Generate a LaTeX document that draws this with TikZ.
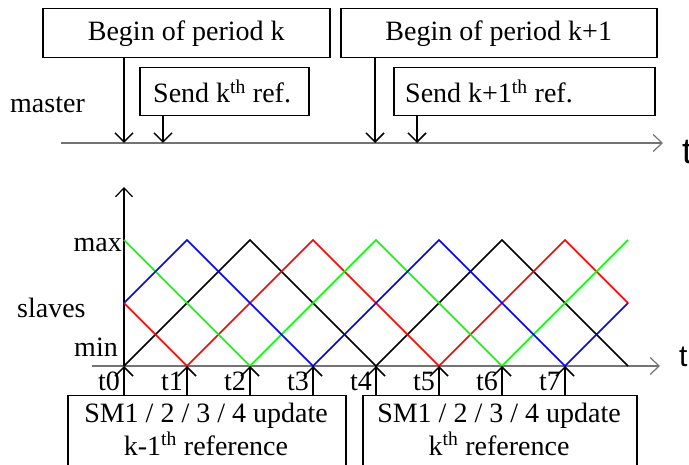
\documentclass[tikz,border=0pt]{standalone}
\usepackage{fontspec}
\setmainfont{Liberation Serif}
\newfontfamily\tfont{Liberation Sans}
\usetikzlibrary{arrows.meta}
\begin{document}
\begin{tikzpicture}[x=1pt,y=-1pt,
  every node/.style={font=\fontsize{28}{33}\selectfont, inner sep=0pt},
  box/.style={draw, line width=1.5pt, anchor=north west},
  tip/.style={-{Straight Barb[length=9pt,width=18pt]}, line width=1.5pt},
  axis/.style={-{Straight Barb[length=9pt,width=17pt]}, line width=1.2pt, draw=black!55},
  yaxis/.style={-{Straight Barb[length=9pt,width=17pt]}, line width=1.2pt, draw=black},
  wave/.style={line width=1.6pt, line join=miter}]
\useasboundingbox (0,0) rectangle (689,465);
\clip (0,0) rectangle (689,465);

% top boxes
\node[box, minimum width=287pt, minimum height=49pt] (bk) at (42,8) {};
\node at (bk.center) {Begin of period k};
\node[box, minimum width=316pt, minimum height=49pt] (bk1) at (340,8) {};
\node at (bk1.center) {Begin of period k+1};
\node[box, minimum width=169pt, minimum height=48pt] (sk) at (139,67) {};
\node[anchor=west] at ([xshift=14pt]sk.west) {Send k\textsuperscript{th} ref.};
\node[box, minimum width=261pt, minimum height=48pt] (sk1) at (393,67) {};
\node[anchor=west] at ([xshift=12pt]sk1.west) {Send k+1\textsuperscript{th} ref.};

\node[anchor=base west] (master) at (10,113) {master};

% master axis
\coordinate (ma0) at (61,143);
\coordinate (ma1) at (663,143);
\draw[axis] (ma0) -- (ma1);
\node[anchor=west, font=\tfont\fontsize{36}{36}\selectfont] (tm) at (682,152) {t};

\coordinate (a1) at (124,143);
\coordinate (a2) at (163,143);
\coordinate (a3) at (375,143);
\coordinate (a4) at (417,143);
\draw[tip] (a1 |- bk.south) -- (a1);
\draw[tip] (a2 |- sk.south) -- (a2);
\draw[tip] (a3 |- bk1.south) -- (a3);
\draw[tip] (a4 |- sk1.south) -- (a4);

% slave chart axes
\coordinate (o) at (124,366);
\coordinate (xa0) at (92,366);
\coordinate (xa1) at (660,366);
\coordinate (ya1) at (124,187);
\draw[axis] (xa0) -- (xa1);
\draw[yaxis] (o) -- (ya1);
\node[anchor=west, font=\tfont\fontsize{30}{30}\selectfont] (tb) at (679,357) {t};

\node[anchor=base east] (max) at (122,252) {max};
\node[anchor=base east] (min) at (118,357) {min};
\node[anchor=base west] (slaves) at (17,318) {slaves};

% waves
\begin{scope}[shift={(124pt,-366pt)}, x=63pt, y=63pt]
  \draw[wave, black] (0,0) -- (2,2) -- (4,0) -- (6,2) -- (8,0);
  \draw[wave, red] (0,1) -- (1,0) -- (3,2) -- (5,0) -- (7,2) -- (8,1);
  \draw[wave, green] (0,2) -- (2,0) -- (4,2) -- (6,0) -- (8,2);
  \draw[wave, blue] (0,1) -- (1,2) -- (3,0) -- (5,2) -- (7,0) -- (8,1);
  \foreach \i in {0,...,7} { \coordinate (t\i) at (\i,0); }
\end{scope}

% bottom boxes
\node[box, minimum width=278pt, minimum height=90pt] (u1) at (67,395) {};
\node[box, minimum width=274pt, minimum height=90pt] (u2) at (362,395) {};
\node[anchor=base] (u1a) at (206,422) {SM1 / 2 / 3 / 4 update};
\node[anchor=base] (u1b) at (206,455) {k-1\textsuperscript{th} reference};
\node[anchor=base] (u2a) at (499,422) {SM1 / 2 / 3 / 4 update};
\node[anchor=base] (u2b) at (499,455) {k\textsuperscript{th} reference};

\foreach \i in {0,...,3} {
  \draw[tip] (t\i |- u1.north) -- (t\i);
  \node[anchor=base east] (lt\i) at ([xshift=-4pt, yshift=-25pt]t\i) {t\i};
}
\foreach \i in {4,...,7} {
  \draw[tip] (t\i |- u2.north) -- (t\i);
  \node[anchor=base east] (lt\i) at ([xshift=-4pt, yshift=-25pt]t\i) {t\i};
}
\end{tikzpicture}
\end{document}
